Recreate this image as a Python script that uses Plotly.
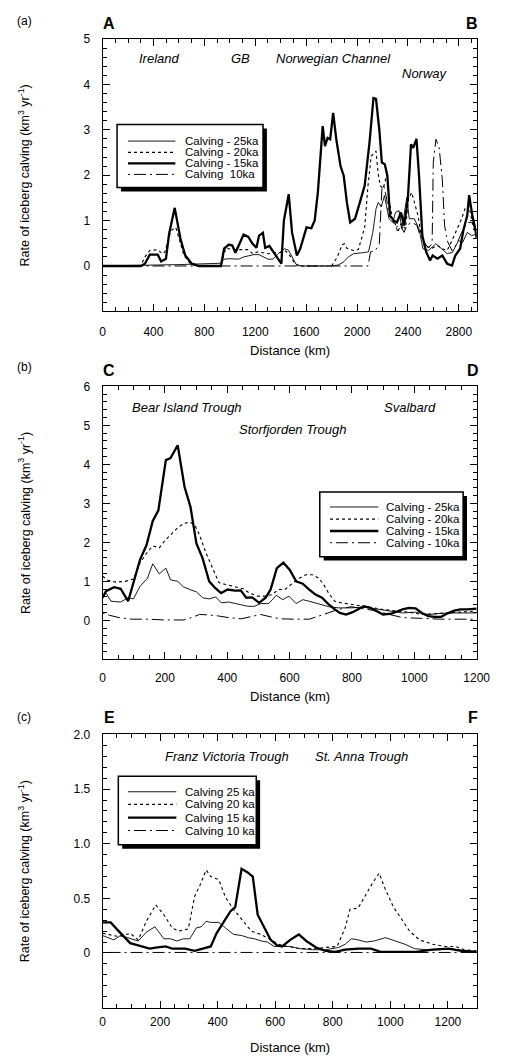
import plotly.graph_objects as go

W, H = 510, 1056

# ---------------- Panel (a) data ----------------
a_x_25 = [0, 300, 600, 930, 955, 1000, 1070, 1110, 1150, 1190, 1230, 1265, 1300, 1340, 1380, 1430, 1460, 1490, 1520, 1560,
          1800, 1850, 1890, 1933, 1972, 2040, 2090, 2124, 2149, 2167, 2190, 2215, 2251, 2280, 2302, 2330, 2353, 2391,
          2410, 2450, 2487, 2518, 2560, 2620, 2660, 2708, 2750, 2797, 2830, 2866, 2900, 2940]
a_y_25 = [0, 0.01, 0.03, 0.06, 0.15, 0.16, 0.15, 0.2, 0.23, 0.25, 0.25, 0.2, 0.15, 0.15, 0.27, 0.38, 0.35, 0.2, 0.04, 0.0,
          0.0, 0.02, 0.08, 0.2, 0.27, 0.29, 0.31, 0.74, 1.26, 1.4, 1.3, 1.55, 1.04, 0.96, 1.18, 1.22, 0.82, 1.51,
          1.04, 1.04, 0.82, 0.38, 0.34, 0.49, 0.38, 0.27, 0.3, 0.56, 0.52, 0.74, 0.67, 0.7]

a_x_20 = [0, 300, 333, 371, 434, 470, 490, 511, 537, 575, 600, 640, 690, 740, 930, 968, 1040, 1146, 1180, 1220, 1260,
          1300, 1360, 1400, 1440, 1480, 1510, 1540, 1800, 1845, 1883, 1900, 1920, 1972, 2010, 2035, 2060, 2086, 2111,
          2149, 2165, 2182, 2205, 2238, 2250, 2277, 2300, 2320, 2345, 2380, 2404, 2429, 2455, 2480, 2500, 2540, 2580,
          2630, 2670, 2708, 2746, 2785, 2822, 2848, 2879, 2906, 2929, 2940]
a_y_20 = [0, 0, 0.2, 0.34, 0.36, 0.27, 0.31, 0.52, 0.78, 0.85, 0.6, 0.23, 0.05, 0, 0, 0.39, 0.36, 0.36, 0.27, 0.31, 0.29,
          0.27, 0.29, 0.3, 0.33, 0.2, 0.05, 0, 0, 0.2, 0.47, 0.49, 0.39, 0.34, 0.36, 0.6, 0.85, 1.77, 2.42,
          2.53, 2.06, 1.77, 1.7, 2.06, 1.5, 1.04, 0.93, 0.74, 0.93, 0.82, 1.47, 1.62, 1.33, 1.1, 0.74, 0.45, 0.38,
          0.45, 0.38, 0.34, 0.56, 0.82, 1.04, 1.26, 1.33, 0.96, 0.74, 0.62]

a_x_15 = [0, 300, 333, 371, 434, 460, 498, 523, 567, 612, 650, 701, 760, 930, 955, 993, 1020, 1044, 1070, 1108, 1146,
          1176, 1209, 1230, 1260, 1278, 1311, 1362, 1405, 1425, 1463, 1489, 1527, 1553, 1603, 1641, 1667, 1692, 1730,
          1748, 1768, 1789, 1812, 1837, 1870, 1895, 1920, 1946, 1984, 2022, 2060, 2098, 2129, 2149, 2175, 2195, 2218,
          2238, 2259, 2289, 2314, 2345, 2370, 2399, 2424, 2441, 2467, 2487, 2513, 2543, 2574, 2594, 2632, 2670, 2708,
          2746, 2772, 2810, 2835, 2866, 2881, 2906, 2929, 2940]
a_y_15 = [0, 0, 0.05, 0.25, 0.25, 0.10, 0.16, 0.71, 1.28, 0.6, 0.23, 0.05, 0, 0, 0.38, 0.47, 0.45, 0.29, 0.45, 0.69, 0.64,
          0.5, 0.4, 0.67, 0.73, 0.4, 0.44, 0.22, 0.05, 1.0, 1.58, 0.74, 0.23, 0.38, 0.85, 0.83, 1.0, 1.62, 3.08,
          2.64, 2.82, 2.79, 3.37, 2.79, 2.2, 1.99, 1.4, 0.96, 1.04, 1.4, 1.77, 2.72, 3.70, 3.68, 3.0, 2.28, 2.24,
          1.99, 1.11, 1.0, 0.96, 1.18, 0.89, 1.47, 2.68, 2.6, 2.80, 1.99, 0.67, 0.31, 0.12, 0.23, 0.16, 0.23, 0.05,
          0.01, 0.23, 0.38, 0.78, 1.11, 1.56, 1.11, 0.82, 0.6]

a_x_10 = [0, 2086, 2106, 2144, 2175, 2182, 2195, 2210, 2233, 2250, 2277, 2302, 2340, 2370, 2390, 2430, 2470, 2495, 2523,
          2560, 2590, 2599, 2620, 2645, 2670, 2688, 2708, 2746, 2785, 2822, 2866, 2900, 2940]
a_y_10 = [0, 0, 0.31, 0.34, 0.49, 0.96, 1.69, 1.77, 1.47, 1.11, 1.04, 0.85, 0.89, 0.74, 0.89, 0.96, 0.9, 0.67, 0.53,
          0.4, 0.49, 2.28, 2.79, 2.61, 1.91, 0.89, 0.56, 0.34, 0.49, 0.74, 0.96, 0.96, 0.78]

# ---------------- Panel (b) data ----------------
b_x_25 = [0, 11, 27, 58, 82, 99, 120, 144, 161, 182, 203, 218, 241, 259, 280, 301, 321, 342, 363, 381, 404, 425, 445,
          466, 487, 507, 533, 557, 578, 598, 621, 642, 663, 683, 704, 725, 756, 797, 838, 880, 921, 962, 1004, 1045,
          1086, 1128, 1200]
b_y_25 = [0.62, 0.70, 0.49, 0.47, 0.58, 0.55, 0.87, 1.08, 1.45, 1.19, 1.34, 1.04, 1.0, 0.86, 0.79, 0.73, 0.58, 0.55,
          0.60, 0.45, 0.47, 0.43, 0.41, 0.36, 0.36, 0.43, 0.43, 0.64, 0.53, 0.62, 0.43, 0.53, 0.49, 0.45, 0.39, 0.35,
          0.32, 0.32, 0.34, 0.28, 0.24, 0.19, 0.21, 0.15, 0.18, 0.19, 0.19]

b_x_20 = [0, 17, 42, 73, 99, 120, 141, 161, 182, 197, 218, 239, 259, 280, 296, 311, 332, 352, 373, 394, 425, 451, 471,
          497, 518, 544, 564, 585, 611, 631, 652, 673, 694, 709, 725, 745, 766, 797, 828, 869, 900, 942, 983, 1024,
          1066, 1107, 1148, 1200]
b_y_20 = [1.13, 1.03, 0.98, 1.0, 1.06, 1.47, 1.72, 1.91, 1.86, 2.02, 2.19, 2.36, 2.48, 2.52, 2.44, 2.19, 1.72, 1.34,
          0.97, 0.92, 0.87, 0.81, 0.70, 0.62, 0.62, 0.66, 0.79, 0.79, 0.96, 1.08, 1.17, 1.17, 1.08, 0.92, 0.70, 0.49,
          0.45, 0.41, 0.36, 0.32, 0.28, 0.24, 0.21, 0.15, 0.18, 0.19, 0.21, 0.24]

b_x_15 = [0, 11, 37, 58, 82, 99, 120, 141, 161, 179, 203, 218, 241, 263, 282, 301, 321, 342, 361, 380, 401, 425, 443,
          461, 480, 502, 523, 539, 559, 580, 600, 621, 642, 663, 683, 704, 725, 745, 761, 781, 802, 823, 838, 859,
          880, 900, 926, 947, 962, 983, 1004, 1024, 1045, 1066, 1086, 1107, 1128, 1148, 1169, 1200]
b_y_15 = [0.58, 0.75, 0.85, 0.81, 0.49, 0.96, 1.55, 1.93, 2.55, 2.82, 4.11, 4.16, 4.49, 3.42, 2.91, 1.97, 1.59, 1.0,
          0.83, 0.70, 0.79, 0.76, 0.77, 0.58, 0.59, 0.45, 0.58, 0.79, 1.34, 1.48, 1.30, 1.0, 0.94, 0.79, 0.66, 0.58,
          0.41, 0.28, 0.19, 0.15, 0.21, 0.30, 0.36, 0.32, 0.24, 0.15, 0.17, 0.24, 0.28, 0.32, 0.31, 0.19, 0.11, 0.09,
          0.09, 0.18, 0.25, 0.28, 0.28, 0.30]

b_x_10 = [0, 22, 53, 94, 146, 197, 259, 285, 311, 342, 373, 404, 445, 476, 507, 539, 569, 611, 663, 694, 725, 756, 797,
          838, 880, 921, 962, 1024, 1086, 1200]
b_y_10 = [0.19, 0.13, 0.07, 0.03, 0.03, 0.01, 0.01, 0.07, 0.15, 0.14, 0.11, 0.07, 0.04, 0.09, 0.15, 0.09, 0.04, 0.03,
          0.03, 0.11, 0.19, 0.28, 0.35, 0.30, 0.24, 0.15, 0.07, 0.05, 0.03, 0.03]

# ---------------- Panel (c) data ----------------
c_x_25 = [0, 11, 39, 62, 96, 124, 152, 182, 213, 236, 258, 281, 303, 326, 343, 360, 376, 404, 427, 455, 483, 506, 528,
          551, 573, 596, 618, 652, 685, 730, 775, 820, 843, 865, 888, 916, 944, 983, 1017, 1051, 1084, 1124, 1169,
          1202, 1236, 1300]
c_y_25 = [0.16, 0.15, 0.12, 0.16, 0.13, 0.11, 0.19, 0.24, 0.13, 0.13, 0.11, 0.13, 0.13, 0.23, 0.24, 0.29, 0.28, 0.28,
          0.23, 0.17, 0.16, 0.14, 0.13, 0.11, 0.10, 0.06, 0.06, 0.06, 0.04, 0.03, 0.03, 0.05, 0.08, 0.13, 0.12, 0.10,
          0.11, 0.14, 0.11, 0.08, 0.04, 0.03, 0.03, 0.04, 0.03, 0.01]

c_x_20 = [0, 22, 56, 96, 124, 152, 185, 213, 242, 264, 298, 320, 337, 360, 376, 404, 427, 455, 483, 517, 551, 584, 612,
          640, 685, 730, 775, 815, 843, 860, 888, 910, 938, 961, 983, 1011, 1039, 1067, 1101, 1146, 1191, 1225, 1258,
          1300]
c_y_20 = [0.18, 0.17, 0.15, 0.18, 0.12, 0.29, 0.44, 0.35, 0.23, 0.20, 0.22, 0.52, 0.61, 0.76, 0.70, 0.67, 0.51, 0.40,
          0.31, 0.20, 0.17, 0.12, 0.08, 0.06, 0.04, 0.04, 0.05, 0.06, 0.23, 0.40, 0.41, 0.51, 0.64, 0.73, 0.58, 0.42,
          0.31, 0.20, 0.12, 0.08, 0.06, 0.06, 0.03, 0.02]

c_x_15 = [0, 28, 56, 96, 124, 163, 185, 219, 242, 287, 320, 348, 376, 396, 421, 444, 461, 483, 503, 522, 539, 562, 584,
          607, 624, 652, 682, 708, 742, 775, 809, 843, 888, 933, 966, 1022, 1090, 1146, 1202, 1247, 1300]
c_y_15 = [0.28, 0.28, 0.20, 0.09, 0.07, 0.04, 0.05, 0.06, 0.04, 0.04, 0.02, 0.04, 0.06, 0.18, 0.29, 0.38, 0.42, 0.77,
          0.74, 0.70, 0.35, 0.23, 0.12, 0.07, 0.06, 0.12, 0.17, 0.11, 0.05, 0.02, 0.01, 0.03, 0.04, 0.04, 0.01, 0.01,
          0.01, 0.03, 0.04, 0.02, 0.01]

c_x_10 = [0, 200, 400, 600, 800, 1000, 1200, 1300]
c_y_10 = [0.005, 0.005, 0.005, 0.005, 0.005, 0.005, 0.005, 0.005]

# ---------------- Axis / text definitions ----------------
a_xticks = [0, 400, 800, 1200, 1600, 2000, 2400, 2800]
b_xticks = [0, 200, 400, 600, 800, 1000, 1200]
c_xticks = [0, 200, 400, 600, 800, 1000, 1200]
a_yticks = [0, 1, 2, 3, 4, 5]
b_yticks = [0, 1, 2, 3, 4, 5, 6]
c_yticks = [0, 0.5, 1.0, 1.5, 2.0]
c_yticklabels = ["0", "0.5", "1.0", "1.5", "2.0"]

legend_a = ["Calving - 25ka", "Calving - 20ka", "Calving - 15ka", "Calving  10ka"]
legend_b = ["Calving - 25ka", "Calving - 20ka", "Calving - 15ka", "Calving - 10ka"]
legend_c = ["Calving 25 ka", "Calving 20 ka", "Calving 15 ka", "Calving 10 ka"]

FONT = "Liberation Sans, Arial, Helvetica, sans-serif"
STYLES = [
    dict(color="black", width=0.9, dash="solid"),
    dict(color="black", width=1.1, dash="3px,3px"),
    dict(color="black", width=2.3, dash="solid"),
    dict(color="black", width=1.0, dash="2px,4px,12px,4px"),
]


def px(x):
    return x / W


def py(y):
    return 1 - y / H


fig = go.Figure()

panels = [
    ("x", "y", [(a_x_25, a_y_25), (a_x_20, a_y_20), (a_x_15, a_y_15), (a_x_10, a_y_10)], legend_a),
    ("x2", "y2", [(b_x_25, b_y_25), (b_x_20, b_y_20), (b_x_15, b_y_15), (b_x_10, b_y_10)], legend_b),
    ("x3", "y3", [(c_x_25, c_y_25), (c_x_20, c_y_20), (c_x_15, c_y_15), (c_x_10, c_y_10)], legend_c),
]
for xa, ya, series, names in panels:
    for (xs, ys), style, name in zip(series, STYLES, names):
        fig.add_trace(go.Scatter(x=xs, y=ys, mode="lines", line=style, name=name,
                                 xaxis=xa, yaxis=ya, showlegend=False))

xdom_px = (103, 490)
ydom_px = [(32.2, 306.4), (381.9, 656.7), (732.3, 1007.3)]
xdom = [px(xdom_px[0]), px(xdom_px[1])]
ydoms = [[py(b), py(t)] for t, b in ydom_px]
xranges = [[0, 2940], [0, 1200], [0, 1300]]
yranges = [[-1, 5], [-1, 6], [-0.5, 2.0]]
xtv = [a_xticks, b_xticks, c_xticks]
xminor = [100, 50, 50]
ytv = [a_yticks, b_yticks, c_yticks]
ytt = [None, None, c_yticklabels]
yminor = [0.2, 0.2, 0.1]
xstand = [9, 7, 3]

axis_common = dict(showline=True, linecolor="black", linewidth=1, mirror="ticks", ticks="inside",
                   ticklen=7, tickwidth=1.2, tickcolor="black", showgrid=False, zeroline=False,
                   layer="above traces", tickfont=dict(family=FONT, size=12, color="black"))
for i in range(3):
    sfx = "" if i == 0 else str(i + 1)
    xa = dict(axis_common, domain=xdom, range=xranges[i], anchor="y" + sfx,
              tickmode="array", tickvals=xtv[i], ticklabelstandoff=xstand[i],
              minor=dict(ticks="inside", ticklen=4, dtick=xminor[i], tick0=0, tickcolor="black", tickwidth=1.2,
                         showgrid=False))
    ya = dict(axis_common, domain=ydoms[i], range=yranges[i], anchor="x" + sfx,
              tickmode="array", tickvals=ytv[i], ticklabelstandoff=9,
              minor=dict(ticks="inside", ticklen=4, dtick=yminor[i], tick0=0, tickcolor="black", tickwidth=1.2,
                         showgrid=False))
    if ytt[i] is not None:
        ya["ticktext"] = ytt[i]
    fig.update_layout({"xaxis" + sfx: xa, "yaxis" + sfx: ya})

annotations = []


def text(x, y, s, size=12, italic=False, bold=False, angle=0, xanchor="center"):
    annotations.append(dict(x=px(x), y=py(y), xref="paper", yref="paper", text=s, showarrow=False,
                            xanchor=xanchor, yanchor="middle", textangle=angle,
                            font=dict(family=FONT, size=size, color="black",
                                      style="italic" if italic else "normal",
                                      weight="bold" if bold else "normal")))


# panel labels
text(22, 14, "(a)", 12)
text(110, 16.5, "A", 16, bold=True)
text(485, 16.5, "B", 16, bold=True)
text(22, 362, "(b)", 12)
text(110, 366, "C", 16, bold=True)
text(486, 366, "D", 16, bold=True)
text(22, 715, "(c)", 12)
text(110, 715, "E", 16, bold=True)
text(486, 715, "F", 16, bold=True)

# region names
text(162, 52, "Ireland", 13, italic=True)
text(246, 52, "GB", 13, italic=True)
text(342, 52, "Norwegian Channel", 13, italic=True)
text(437, 67, "Norway", 13, italic=True)
text(190, 402.7, "Bear Island Trough", 13, italic=True)
text(299, 425, "Storfjorden Trough", 13, italic=True)
text(421, 402.7, "Svalbard", 13, italic=True)
text(232, 754, "Franz Victoria Trough", 13, italic=True)
text(371, 754, "St. Anna Trough", 13, italic=True)

# axis titles
ytitle = "Rate of iceberg calving (km<sup>3</sup> yr<sup>-1</sup>)"
for top, bot in ydom_px:
    text(22, (top + bot) / 2, ytitle, 12.5, angle=-90)
text(296.5, 346, "Distance (km)", 13)
text(296.5, 694, "Distance (km)", 13)
text(296.5, 1047, "Distance (km)", 13)

# legends (drawn as boxes, sample lines and labels)
shapes = []
legend_boxes = [
    (118, 118.3, 269, 181.7, [135, 146.3, 157.5, 168.5], 129.3, 178.3, 186, legend_a),
    (327.7, 488.3, 476, 553.3, [503.3, 515.5, 527.5, 539.3], 338.3, 388.3, 394, legend_b),
    (119.3, 774.3, 262, 843.3, [790, 802.7, 816, 829], 129.3, 179.3, 186, legend_c),
]
for x0, y0, x1, y1, rows, lx0, lx1, tx, names in legend_boxes:
    shapes.append(dict(type="rect", xref="paper", yref="paper", x0=px(x0 + 4), x1=px(x1 + 4),
                       y0=py(y0 + 4), y1=py(y1 + 4), fillcolor="black", line=dict(width=0), layer="above"))
    shapes.append(dict(type="rect", xref="paper", yref="paper", x0=px(x0), x1=px(x1), y0=py(y0), y1=py(y1),
                       fillcolor="white", line=dict(color="black", width=1.5), layer="above"))
    for ry, style, name in zip(rows, STYLES, names):
        shapes.append(dict(type="line", xref="paper", yref="paper", x0=px(lx0), x1=px(lx1), y0=py(ry), y1=py(ry),
                           line=style, layer="above"))
        text(tx, ry, name, 11.5, xanchor="left")

fig.update_layout(width=W, height=H, margin=dict(l=0, r=0, t=0, b=0), paper_bgcolor="white",
                  plot_bgcolor="white", showlegend=False, annotations=annotations, shapes=shapes,
                  font=dict(family=FONT, color="black"))
fig.write_html("out.html")
